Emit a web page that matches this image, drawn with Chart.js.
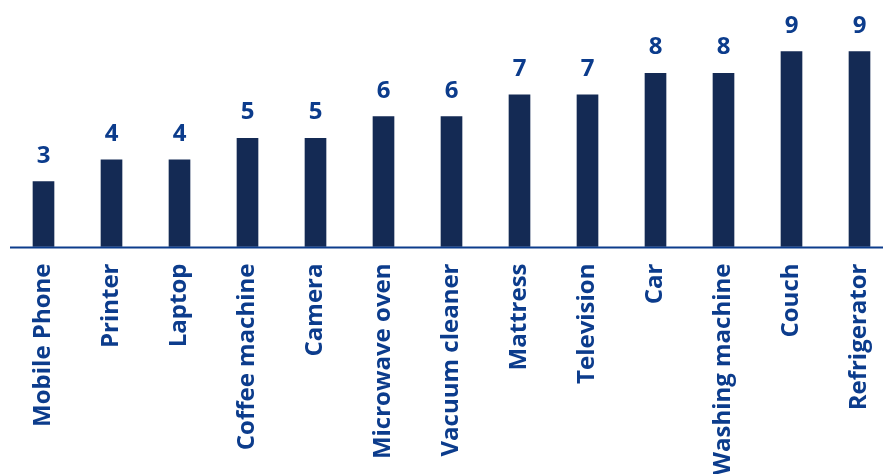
<!DOCTYPE html>
<html>
<head>
<meta charset="utf-8">
<script src="https://cdn.jsdelivr.net/npm/chart.js@4"></script>
<style>
  html, body { margin: 0; padding: 0; background: #ffffff; }
  #wrap { width: 883px; height: 474px; }
</style>
</head>
<body>
<div id="wrap"><canvas id="productChart" width="883" height="474"></canvas></div>
<script>
// data
const products = ['Mobile Phone', 'Printer', 'Laptop', 'Coffee machine', 'Camera', 'Microwave oven', 'Vacuum cleaner', 'Mattress', 'Television', 'Car', 'Washing machine', 'Couch', 'Refrigerator'];
const scores = [3, 4, 4, 5, 5, 6, 6, 7, 7, 8, 8, 9, 9];

const barColor = '#142a54';
const textColor = '#0c3c8c';
const fontFamily = '"Open Sans", Lato, sans-serif';

// baseline across the whole width + value labels above bars
const extrasPlugin = {
    id: 'extras',
    afterDatasetsDraw: (chart) => {
        const c = chart.ctx;
        const y0 = chart.scales.y.getPixelForValue(0);
        c.save();
        c.strokeStyle = textColor;
        c.lineWidth = 2;
        c.beginPath();
        c.moveTo(10, y0 + 1);
        c.lineTo(chart.width, y0 + 1);
        c.stroke();

        c.fillStyle = textColor;
        c.font = 'bold 24px ' + fontFamily;
        c.textAlign = 'center';
        c.textBaseline = 'alphabetic';
        chart.getDatasetMeta(0).data.forEach((bar, i) => {
            c.fillText(String(scores[i]), bar.x, bar.y - 19);
        });
        c.restore();
    }
};

new Chart(document.getElementById('productChart'), {
    type: 'bar',
    data: {
        labels: products,
        datasets: [{
            data: scores,
            backgroundColor: barColor,
            barThickness: 21,
            clip: false
        }]
    },
    options: {
        responsive: false,
        animation: false,
        layout: { padding: { top: 30, left: 43.5, right: 23.5 } },
        plugins: { legend: { display: false }, tooltip: { enabled: false } },
        scales: {
            x: {
                offset: false,
                grid: { display: false, drawTicks: false },
                border: { display: false },
                ticks: {
                    color: textColor,
                    font: { family: fontFamily, size: 24, weight: 'bold' },
                    minRotation: 90,
                    maxRotation: 90,
                    autoSkip: false,
                    padding: 17
                },
                afterFit: (scale) => {
                    scale.height = 474 - 246.5;
                    scale.paddingLeft = 0;
                    scale.paddingRight = 0;
                }
            },
            y: {
                display: false,
                min: 0,
                max: 10
            }
        }
    },
    plugins: [extrasPlugin]
});
</script>
</body>
</html>
